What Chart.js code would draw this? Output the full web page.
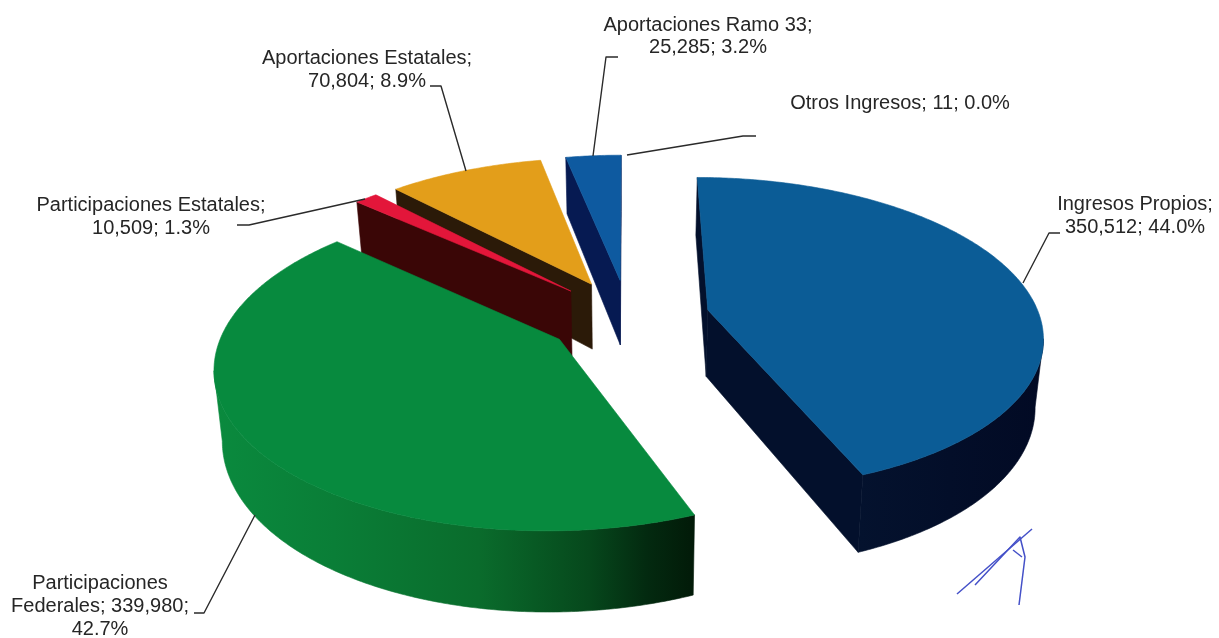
<!DOCTYPE html>
<html lang="es">
<head>
<meta charset="utf-8">
<style>html,body{margin:0;padding:0;background:#fff}canvas{display:block}</style>
<script src="https://cdn.jsdelivr.net/npm/chart.js@4"></script>
</head>
<body>
<canvas id="c" width="1219" height="638"></canvas>
<script>
const categories = ["Ingresos Propios","Participaciones Federales","Participaciones Estatales","Aportaciones Estatales","Aportaciones Ramo 33","Otros Ingresos"];
const values = [350512,339980,10509,70804,25285,11];
const percents = ["44.0%","42.7%","1.3%","8.9%","3.2%","0.0%"];
const topColors = ["#0b5c96","#078a3e","#e3163a","#e39e1a","#0e5aa0","#0e5aa0"];
const faceColors = ["#03102c","#021a08","#3a0606","#2b1a08","#061a52","#061a52"];

// perspective of the pie's plane
const view = {R:332, xv:628, yh:-694, D:1011, q:0.153, depth:67, conv:-0.0003};
function project(U,V,dz){
  const w = 1 + view.q*V/view.R;
  return [view.xv + U/w*(1+view.conv*dz), view.yh + (view.D+dz)/w];
}
// wall shading across the screen, per slice
const wallStops = {
  0:[[0,"#04122e"],[1,"#020a24"]],
  1:[[0,"#0a8a3e"],[0.25,"#0a7e37"],[0.55,"#0a6c2c"],[0.78,"#06481c"],[0.9,"#032a10"],[1,"#021a08"]]
};
const labelLayout = [
  {lines:l=>[l[0]+";",l[1]+"; "+l[2]], x:1135, y:[210,233], leader:[[1060,233],[1049,233],[1023,283]]},
  {lines:l=>["Participaciones","Federales; "+l[1]+";",l[2]], x:100, y:[589,612,635], leader:[[194,613],[204,613],[255,515]]},
  {lines:l=>[l[0]+";",l[1]+"; "+l[2]], x:151, y:[211,234], leader:[[237,225],[249,225],[365,199]]},
  {lines:l=>[l[0]+";",l[1]+"; "+l[2]], x:367, y:[64,87], leader:[[430,86],[441,86],[466,171]]},
  {lines:l=>[l[0]+";",l[1]+"; "+l[2]], x:708, y:[31,53], leader:[[618,57],[606,57],[593,156]]},
  {lines:l=>[l[0]+"; "+l[1]+"; "+l[2]], x:900, y:[109], leader:[[627,155],[743,136],[756,136]]}
];
const signature = [
  [[957,594],[1032,529]],
  [[975,585],[1020,537],[1025,557],[1019,605]],
  [[1013,550],[1022,557]]
];

function polygon(ctx,pts){
  ctx.beginPath();
  pts.forEach((p,i)=> i?ctx.lineTo(p[0],p[1]):ctx.moveTo(p[0],p[1]));
  ctx.closePath();
}
function fillPoly(ctx,pts,fill){
  polygon(ctx,pts);
  ctx.fillStyle=fill; ctx.strokeStyle=fill; ctx.lineWidth=0.6;
  ctx.fill(); ctx.stroke();
}
const pie3d = {
  id:"pie3d",
  beforeDatasetDraw(chart,args){
    const ctx = chart.ctx;
    const arcs = chart.getDatasetMeta(args.index).data;
    const items = arcs.map((el,i)=>{
      const p = el.getProps(["startAngle","endAngle","outerRadius"],true);
      const e = view.R*el.options.offset/p.outerRadius;
      const mid = (p.startAngle+p.endAngle)/2;
      return {i,a0:p.startAngle,a1:p.endAngle,ax:e*Math.cos(mid),ay:-e*Math.sin(mid)};
    }).filter(s=>s.a1-s.a0>0.002).sort((a,b)=>b.ay-a.ay);
    ctx.save();
    ctx.lineJoin="round";
    for(const s of items){
      const n = Math.max(2,Math.ceil((s.a1-s.a0)/0.01));
      const rim=[];
      for(let k=0;k<=n;k++){
        const a=s.a0+(s.a1-s.a0)*k/n;
        rim.push([s.ax+view.R*Math.cos(a), s.ay-view.R*Math.sin(a)]);
      }
      const apex=[s.ax,s.ay];
      const T=(p)=>project(p[0],p[1],0), B=(p)=>project(p[0],p[1],view.depth);
      const edge=(p,q)=>{
        if(T(q)[0]-T(p)[0]<0) fillPoly(ctx,[T(p),T(q),B(q),B(p)],faceColors[s.i]);
      };
      edge(apex,rim[0]);
      edge(rim[n],apex);
      // outer wall: only the part facing the viewer
      const vis=[];
      for(let k=0;k<n;k++){
        if(T(rim[k+1])[0]<T(rim[k])[0]){ if(!vis.length) vis.push(rim[k]); vis.push(rim[k+1]); }
      }
      if(vis.length>1){
        const tops=vis.map(T), bots=vis.map(B).reverse();
        const xs=tops.concat(bots).map(p=>p[0]);
        const x0=Math.min(...xs), x1=Math.max(...xs);
        const g=ctx.createLinearGradient(x0,0,x1,0);
        (wallStops[s.i]||[[0,faceColors[s.i]],[1,faceColors[s.i]]]).forEach(st=>g.addColorStop(st[0],st[1]));
        fillPoly(ctx,tops.concat(bots),g);
      }
      fillPoly(ctx,[T(apex)].concat(rim.map(T)),topColors[s.i]);
    }
    ctx.restore();
    return false;
  },
  afterDraw(chart){
    const ctx=chart.ctx;
    ctx.save();
    ctx.lineJoin="round";
    ctx.strokeStyle="#2a2a2a"; ctx.lineWidth=1.4;
    labelLayout.forEach(l=>{
      ctx.beginPath();
      l.leader.forEach((p,i)=> i?ctx.lineTo(p[0],p[1]):ctx.moveTo(p[0],p[1]));
      ctx.stroke();
    });
    ctx.fillStyle="#262626";
    ctx.font='20px "Liberation Sans", Arial, sans-serif';
    ctx.textAlign="center"; ctx.textBaseline="alphabetic";
    labelLayout.forEach((l,i)=>{
      const rec=[categories[i],values[i].toLocaleString("en-US"),percents[i]];
      l.lines(rec).forEach((t,j)=>ctx.fillText(t,l.x,l.y[j]));
    });
    ctx.strokeStyle="#4450c8"; ctx.lineWidth=1.5;
    signature.forEach(s=>{
      ctx.beginPath();
      s.forEach((p,i)=> i?ctx.lineTo(p[0],p[1]):ctx.moveTo(p[0],p[1]));
      ctx.stroke();
    });
    ctx.restore();
  }
};
new Chart(document.getElementById("c"),{
  type:"pie",
  data:{labels:categories,datasets:[{data:values,backgroundColor:topColors,borderWidth:0,offset:70,hoverOffset:0}]},
  options:{responsive:false,animation:false,events:[],
    layout:{padding:0},
    plugins:{legend:{display:false},tooltip:{enabled:false},title:{display:false}}},
  plugins:[pie3d]
});
</script>
</body>
</html>
